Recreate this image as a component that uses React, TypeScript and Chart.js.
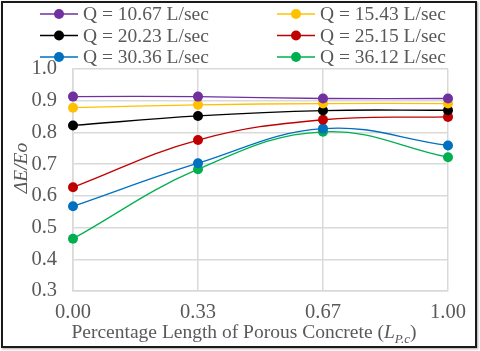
import React, { useEffect, useRef } from "react";
import { Chart, registerables } from "chart.js";

Chart.register(...registerables);

const categories = ["0.00", "0.33", "0.67", "1.00"];
const seriesLabels = [
  "Q = 10.67 L/sec",
  "Q = 15.43 L/sec",
  "Q = 20.23 L/sec",
  "Q = 25.15 L/sec",
  "Q = 30.36 L/sec",
  "Q = 36.12 L/sec",
];
const q1067 = [0.913, 0.913, 0.907, 0.907];
const q1543 = [0.878, 0.887, 0.891, 0.891];
const q2023 = [0.822, 0.852, 0.869, 0.87];
const q2515 = [0.627, 0.776, 0.84, 0.849];
const q3036 = [0.567, 0.703, 0.812, 0.759];
const q3612 = [0.465, 0.684, 0.802, 0.722];
const seriesValues = [q1067, q1543, q2023, q2515, q3036, q3612];
const seriesColors = ["#7030A0", "#FFC000", "#000000", "#C00000", "#0070C0", "#00B050"];
const yTicks = [0.3, 0.4, 0.5, 0.6, 0.7, 0.8, 0.9, 1.0];

const FONT = "'Liberation Serif', 'Times New Roman', serif";
const TEXT = "#595959";

const customText = {
  id: "customText",
  afterDraw(chart: any) {
    const ctx = chart.ctx;
    ctx.save();
    // legend
    const colLine = [40, 277];
    const rowY = [14, 35.5, 57];
    chart.data.datasets.forEach((ds: any, i: number) => {
      const col = i % 2;
      const row = Math.floor(i / 2);
      const x0 = colLine[col];
      const y = rowY[row];
      ctx.strokeStyle = ds.borderColor;
      ctx.lineWidth = 1.5;
      ctx.beginPath();
      ctx.moveTo(x0, y);
      ctx.lineTo(x0 + 38, y);
      ctx.stroke();
      ctx.fillStyle = ds.pointBackgroundColor;
      ctx.beginPath();
      ctx.arc(x0 + 19, y, 5, 0, Math.PI * 2);
      ctx.fill();
      ctx.fillStyle = TEXT;
      ctx.font = `19.5px ${FONT}`;
      ctx.textAlign = "left";
      ctx.textBaseline = "middle";
      ctx.fillText(ds.label, x0 + 43, y + 1);
    });
    // x title
    const parts = [
      { t: "Percentage Length of Porous Concrete (", f: `19.5px ${FONT}`, dy: 0 },
      { t: "L", f: `italic 19.5px ${FONT}`, dy: 0 },
      { t: "P.c", f: `italic 13px ${FONT}`, dy: 5 },
      { t: ")", f: `19.5px ${FONT}`, dy: 0 },
    ];
    let total = 0;
    parts.forEach((p) => {
      ctx.font = p.f;
      total += ctx.measureText(p.t).width;
    });
    let x = 244 - total / 2;
    ctx.textAlign = "left";
    ctx.textBaseline = "alphabetic";
    ctx.fillStyle = TEXT;
    parts.forEach((p) => {
      ctx.font = p.f;
      ctx.fillText(p.t, x, 338 + p.dy);
      x += ctx.measureText(p.t).width;
    });
    // y title
    ctx.translate(22, 168);
    ctx.rotate(-Math.PI / 2);
    ctx.font = `italic 19.5px ${FONT}`;
    ctx.textAlign = "center";
    ctx.textBaseline = "middle";
    ctx.fillText("ΔE/Eo", 0, 0);
    ctx.restore();
  },
};

export default function App() {
  const ref = useRef<HTMLCanvasElement | null>(null);
  useEffect(() => {
    if (!ref.current) return;
    const chart = new Chart(ref.current, {
      type: "line",
      data: {
        labels: categories,
        datasets: seriesValues.map((vals, i) => ({
          label: seriesLabels[i],
          data: vals,
          borderColor: seriesColors[i],
          backgroundColor: seriesColors[i],
          pointBackgroundColor: seriesColors[i],
          pointBorderColor: seriesColors[i],
          pointRadius: 5,
          pointBorderWidth: 0,
          borderWidth: 1.3,
          tension: 0.4,
          fill: false,
        })),
      },
      options: {
        animation: false,
        responsive: false,
        maintainAspectRatio: false,
        layout: { padding: { top: 69, left: 0, right: 32, bottom: 0 } },
        plugins: {
          legend: { display: false },
          tooltip: { enabled: false },
        },
        scales: {
          x: {
            type: "category",
            offset: false,
            grid: { color: "#d9d9d9", lineWidth: 1.5, drawTicks: false },
            border: { color: "#d9d9d9", width: 1.5 },
            ticks: {
              color: TEXT,
              font: { family: FONT, size: 20.5 },
              padding: 9,
              maxRotation: 0,
            },
            afterFit: (s: any) => {
              s.height = 60;
            },
          },
          y: {
            min: 0.3,
            max: 1.0,
            afterBuildTicks: (s: any) => {
              s.ticks = yTicks.map((v) => ({ value: v }));
            },
            grid: { color: "#d9d9d9", lineWidth: 1.5, drawTicks: false },
            border: { color: "#d9d9d9", width: 1.5 },
            ticks: {
              color: TEXT,
              font: { family: FONT, size: 20.5 },
              padding: 16,
              callback: (v: any) => Number(v).toFixed(1),
            },
            afterFit: (s: any) => {
              s.width = 73;
            },
          },
        },
      },
      plugins: [customText],
    });
    return () => chart.destroy();
  }, []);
  return (
    <div style={{ position: "absolute", left: 0, top: 0, width: 480, height: 351, background: "#fff" }}>
      <canvas ref={ref} width={480} height={351} style={{ position: "absolute", left: 0, top: 0, width: 480, height: 351 }} />
      <div
        style={{
          position: "absolute",
          left: 1,
          top: 1,
          width: 476,
          height: 347,
          boxSizing: "border-box",
          border: "2px solid #1a1a1a",
          boxShadow: "1px 1px 2px rgba(0,0,0,0.35)",
          pointerEvents: "none",
        }}
      />
    </div>
  );
}
